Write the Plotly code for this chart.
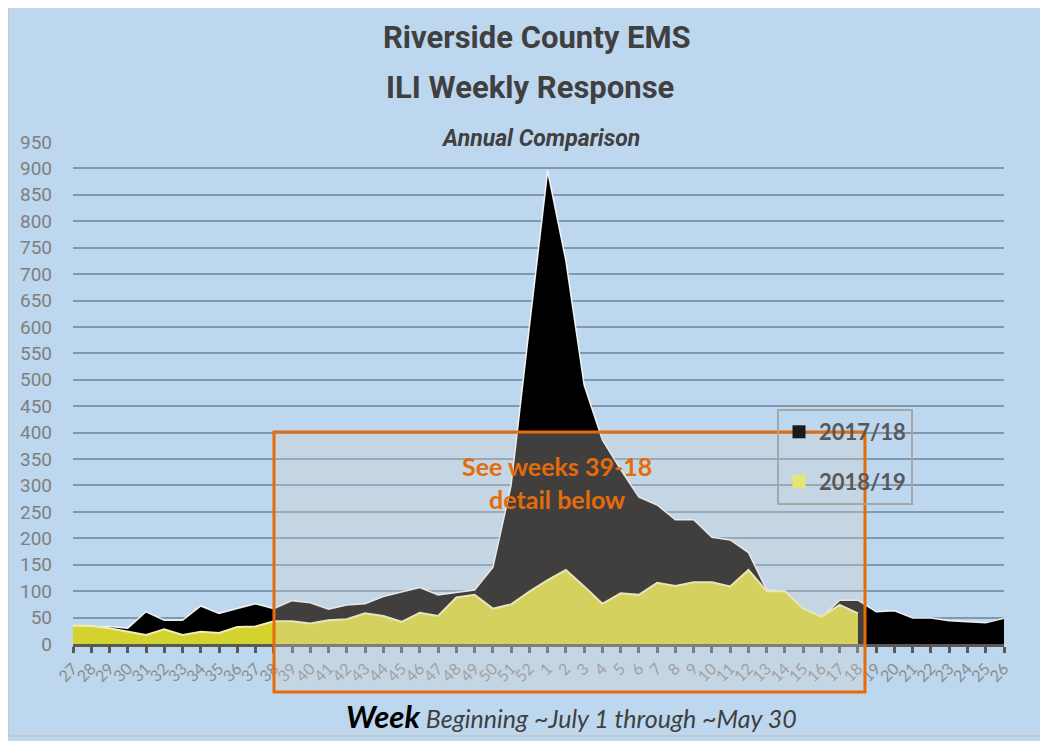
import plotly.graph_objects as go

weeks = [str(w) for w in list(range(27, 53)) + list(range(1, 27))]

season_2017_18 = [30, 32, 33, 30, 61, 45, 45, 72, 58, 67, 76, 67, 82, 78, 66, 74, 76, 90, 99, 107,
                  93, 97, 102, 145, 300, 600, 895, 725, 490, 386, 330, 278, 263, 235, 235, 202,
                  197, 173, 102, 100, 67, 50, 83, 83, 61, 63, 49, 49, 44, 42, 40, 49]

season_2018_19 = [35, 34, 30, 24, 17, 28, 17, 23, 21, 32, 33, 43, 43, 39, 45, 47, 58, 53, 42, 59,
                  53, 88, 93, 67, 75, 99, 121, 140, 109, 76, 96, 93, 116, 110, 117, 117,
                  109, 140, 100, 100, 67, 52, 74, 58] + [None] * 8

series_names = ["2017/18", "2018/19"]
y_ticks = list(range(0, 951, 50))

W, H = 1048, 741
OFF = 8  # page body margin offset
L = 73 - OFF
T = 142 - OFF
R = W - (1004 - OFF)
B = H - (644 - OFF)
PW, PH = W - L - R, H - T - B


def px(x):
    return (x - OFF - L) / PW


def py(y):
    return (H - B - (y - OFF)) / PH


BG = "#BDD7EE"
ORANGE = "#E46C0A"
BLACK_FILL = "#000000"
YELLOW_FILL = "#D4D22E"
TITLE_FONT = "Roboto, Liberation Sans, sans-serif"
BODY_FONT = "Lato, Open Sans, sans-serif"

fig = go.Figure()
fig.add_trace(go.Scatter(
    x=weeks, y=season_2017_18, name=series_names[0], mode="lines", showlegend=False,
    fill="tozeroy", fillcolor=BLACK_FILL,
    line=dict(color="rgba(255,255,255,0.9)", width=1.5),
))
fig.add_trace(go.Scatter(
    x=weeks, y=season_2018_19, name=series_names[1], mode="lines", showlegend=False,
    fill="tozeroy", fillcolor=YELLOW_FILL,
    line=dict(color="#EEEEB4", width=2),
))
# legend swatches (square keys as in the original legend)
for nm, col, grp in [(series_names[0], "#1A1A1A", "a"), (series_names[1], "#E6E673", "b")]:
    fig.add_trace(go.Scatter(
        x=[None], y=[None], mode="markers", name="<b>" + nm + "</b>", legendgroup=grp,
        marker=dict(symbol="square", size=13, color=col, line=dict(width=0)),
    ))

shapes = [
    dict(type="rect", xref="paper", yref="paper",
         x0=px(8), x1=px(1041), y0=py(736), y1=py(5),
         line=dict(color="#C8C8C8", width=2), fillcolor="rgba(0,0,0,0)", layer="below"),
    dict(type="rect", xref="paper", yref="paper",
         x0=px(274), x1=px(865), y0=py(692), y1=py(432),
         line=dict(color=ORANGE, width=3), fillcolor="rgba(212,208,204,0.30)", layer="above"),
]

annotations = [
    dict(text="<b>Riverside County EMS</b>", x=px(537), y=py(38), xref="paper", yref="paper",
         showarrow=False, xanchor="center", yanchor="middle",
         font=dict(family=TITLE_FONT, size=31, color="#404040")),
    dict(text="<b>ILI Weekly Response</b>", x=px(530), y=py(87), xref="paper", yref="paper",
         showarrow=False, xanchor="center", yanchor="middle",
         font=dict(family=TITLE_FONT, size=31, color="#404040")),
    dict(text="<b><i>Annual Comparison</i></b>", x=px(540), y=py(138), xref="paper", yref="paper",
         showarrow=False, xanchor="center", yanchor="middle",
         font=dict(family=TITLE_FONT, size=23, color="#404040")),
    dict(text="<b>See weeks 39-18<br>detail below</b>", x=px(557), y=py(482), xref="paper", yref="paper",
         showarrow=False, xanchor="center", yanchor="middle",
         font=dict(family=BODY_FONT, size=25, color=ORANGE)),
    dict(text="<b><i><span style='font-size:31px;color:#000000'>Week</span></i></b>"
              "<i> Beginning ~July 1 through ~May 30</i>",
         x=px(571), y=py(716), xref="paper", yref="paper",
         showarrow=False, xanchor="center", yanchor="middle",
         font=dict(family=BODY_FONT, size=25, color="#404040")),
]

fig.update_layout(
    width=W, height=H,
    margin=dict(l=L, r=R, t=T, b=B),
    paper_bgcolor=BG, plot_bgcolor=BG,
    showlegend=True,
    legend=dict(
        x=px(777), y=py(409), xanchor="left", yanchor="top",
        bgcolor="rgba(0,0,0,0)", bordercolor="#A6A6A6", borderwidth=2,
        font=dict(family=BODY_FONT, size=22, color="#595959"),
        tracegroupgap=18, itemwidth=30,
    ),
    shapes=shapes,
    annotations=annotations,
    xaxis=dict(
        type="category", categoryorder="array", categoryarray=weeks,
        range=[0, len(weeks) - 1],
        tickmode="array", tickvals=weeks, ticktext=weeks,
        tickangle=-45, ticks="outside", ticklen=6, tickwidth=3, tickcolor="#595959",
        showline=True, linecolor="#595959", linewidth=3,
        showgrid=False, zeroline=False,
        tickfont=dict(family=BODY_FONT, size=16, color="#8C8C8C"),
    ),
    yaxis=dict(
        range=[0, 950], tickmode="array", tickvals=y_ticks,
        showgrid=True, gridcolor="#8099B2", gridwidth=2,
        zeroline=False, showline=False, ticks="",
        ticklabelstandoff=20,
        tickfont=dict(family=TITLE_FONT, size=19, color="#7F7F7F"),
    ),
)

fig.write_html("out.html")
